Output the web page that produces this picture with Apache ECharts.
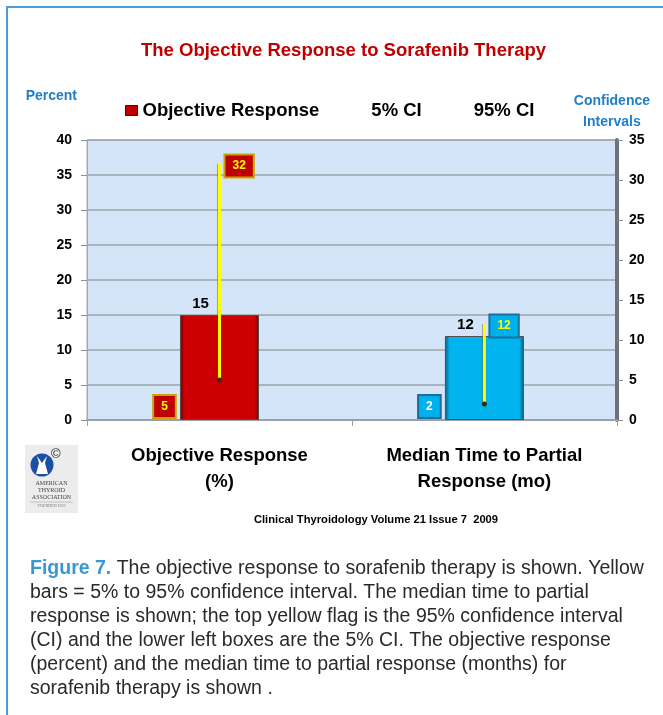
<!DOCTYPE html>
<html>
<head>
<meta charset="utf-8">
<script src="https://cdn.jsdelivr.net/npm/echarts@6/dist/echarts.min.js"></script>
<style>
html,body{margin:0;padding:0;background:#fff;}
#chart{width:663px;height:715px;}
</style>
</head>
<body>
<div id="chart"></div>
<script>
// ---- data ----
const categories = ['Objective Response\n(%)', 'Median Time to Partial\nResponse (mo)'];
const objectiveResponse = [15, 12];
const ci5 = [5, 2];
const ci95 = [32, 12];
const leftAxisMin = 0, leftAxisMax = 40, leftAxisStep = 5;
const rightAxisMin = 0, rightAxisMax = 35, rightAxisStep = 5;

// ---- styles ----
const FONT = "'Liberation Sans',Arial,sans-serif";
const barFill = ['#cc0000', '#00b4f0'];
const barEdge = ['#7a0000', '#0b5a7e'];
const boxFill = ['#c00000', '#00b0ec'];
const boxEdge = ['#c9a400', '#1d6f95'];
const lowText = ['#ffff00', '#ffffff'];

const chart = echarts.init(document.getElementById('chart'), null, {renderer: 'canvas'});

const option = {
  backgroundColor: '#ffffff',
  animation: false,
  title: {
    text: 'The Objective Response to Sorafenib Therapy',
    left: 136, top: 36,
    textStyle: {color: '#c00000', fontSize: 18.5, fontWeight: 'bold', fontFamily: FONT}
  },
  legend: {
    left: 120, top: 96,
    itemWidth: 12, itemHeight: 10, itemGap: 35,
    textStyle: {color: '#000', fontSize: 18.5, fontWeight: 'bold', fontFamily: FONT},
    data: [
      {name: 'Objective Response', icon: 'rect', itemStyle: {color: '#c00000', borderColor: '#5a0000', borderWidth: 1}},
      {name: '5% CI', icon: 'rect', itemStyle: {opacity: 0}},
      {name: '95% CI', icon: 'rect', itemStyle: {opacity: 0}}
    ]
  },
  grid: {
    left: 87, right: 43, top: 140, bottom: 295,
    show: true, backgroundColor: '#d4e5f9', borderColor: '#a3a9b0', borderWidth: 1
  },
  xAxis: {
    type: 'category',
    data: categories,
    axisLine: {lineStyle: {color: '#9aa0a6', width: 2}},
    axisTick: {show: true, length: 6, lineStyle: {color: '#9aa0a6'}},
    axisLabel: {
      color: '#000', fontSize: 18.5, fontWeight: 'bold', fontFamily: FONT,
      lineHeight: 26, margin: 23, interval: 0
    }
  },
  yAxis: [
    {
      type: 'value', min: leftAxisMin, max: leftAxisMax, interval: leftAxisStep,
      name: 'Percent',
      nameGap: 37,
      nameTextStyle: {color: '#1f7fc8', fontSize: 14, fontWeight: 'bold', fontFamily: FONT, align: 'right', padding: [0, 10, 0, 0]},
      axisLine: {show: true, lineStyle: {color: '#a3a9b0', width: 1}},
      axisTick: {show: true, length: 6, lineStyle: {color: '#8a9096'}},
      axisLabel: {color: '#000', fontSize: 14, fontWeight: 'bold', fontFamily: FONT, margin: 15},
      splitLine: {show: true, lineStyle: {color: '#9ea3a9', width: 1.5}}
    },
    {
      type: 'value', min: rightAxisMin, max: rightAxisMax, interval: rightAxisStep,
      name: 'Confidence\nIntervals',
      nameGap: 5,
      nameTextStyle: {color: '#1f7fc8', fontSize: 14, fontWeight: 'bold', fontFamily: FONT, align: 'center', lineHeight: 21, padding: [0, 10, 0, 0]},
      axisLine: {show: true, lineStyle: {color: '#6c7278', width: 4}},
      axisTick: {show: true, length: 6, lineStyle: {color: '#8a9096'}},
      axisLabel: {color: '#000', fontSize: 14, fontWeight: 'bold', fontFamily: FONT, margin: 12},
      splitLine: {show: false}
    }
  ],
  series: [
    {
      name: 'Objective Response',
      type: 'bar',
      yAxisIndex: 0,
      barWidth: 79,
      data: objectiveResponse,
      itemStyle: {
        color: p => new echarts.graphic.LinearGradient(0, 0, 1, 0, [
          {offset: 0, color: barEdge[p.dataIndex]},
          {offset: 0.06, color: barFill[p.dataIndex]},
          {offset: 0.94, color: barFill[p.dataIndex]},
          {offset: 1, color: barEdge[p.dataIndex]}
        ]),
        borderColor: '#5a4a4a',
        borderWidth: 1
      },
      label: {
        show: true, position: 'top', distance: 3, offset: [-19, -1],
        color: '#000', fontSize: 15, fontWeight: 'bold', fontFamily: FONT
      }
    },
    {
      name: '95% CI',
      type: 'custom',
      yAxisIndex: 1,
      data: categories.map((c, i) => [i, ci5[i], ci95[i]]),
      encode: {x: 0, y: [1, 2]},
      z: 5,
      renderItem: function (params, api) {
        const i = api.value(0);
        const top = api.coord([i, api.value(2)]);
        const bot = api.coord([i, api.value(1)]);
        return {
          type: 'group',
          children: [
            {type: 'line', shape: {x1: top[0] - 2, y1: top[1], x2: bot[0] - 2, y2: bot[1]},
             style: {stroke: 'rgba(70,70,70,0.45)', lineWidth: 1}},
            {type: 'line', shape: {x1: top[0], y1: top[1], x2: bot[0], y2: bot[1]},
             style: {stroke: '#ffff00', lineWidth: 3}},
            {type: 'circle', shape: {cx: bot[0], cy: bot[1], r: 2.5}, style: {fill: '#3a2c00'}},
            {type: 'text', x: top[0] + 6, y: top[1] + 2,
             style: {
               text: String(api.value(2)), fill: '#ffff00',
               font: "bold 12px " + FONT,
               align: 'left', verticalAlign: 'middle',
               backgroundColor: boxFill[i], borderColor: boxEdge[i], borderWidth: 2,
               padding: [5, 7, 4, 7]
             }}
          ]
        };
      }
    },
    {
      name: '5% CI',
      type: 'custom',
      yAxisIndex: 1,
      data: categories.map((c, i) => [i, ci5[i]]),
      encode: {x: 0, y: 1},
      z: 5,
      renderItem: function (params, api) {
        const i = api.value(0);
        const base = api.coord([i, rightAxisMin]);
        return {
          type: 'text', x: base[0] - 55, y: base[1] - 3,
          style: {
            text: String(api.value(1)), fill: lowText[i],
            font: "bold 12px " + FONT,
            align: 'center', verticalAlign: 'bottom',
            backgroundColor: boxFill[i], borderColor: boxEdge[i], borderWidth: 2,
            padding: [5, 7, 4, 7]
          }
        };
      }
    }
  ],
  graphic: [
    // page frame
    {type: 'line', shape: {x1: 6, y1: 7, x2: 663, y2: 7}, style: {stroke: '#4a9fdb', lineWidth: 2}},
    {type: 'line', shape: {x1: 7, y1: 6, x2: 7, y2: 715}, style: {stroke: '#4a9fdb', lineWidth: 2}},
    // logo
    {type: 'rect', shape: {x: 25, y: 445, width: 53, height: 68}, style: {fill: '#ececec'}},
    {type: 'circle', shape: {cx: 42, cy: 465, r: 11.5}, style: {fill: '#1d4ea6'}},
    {type: 'polygon', shape: {points: [[37, 456], [39, 463], [36, 474], [48, 474], [45, 463], [47, 456], [42, 463]]},
     style: {fill: '#ffffff'}},
    {type: 'text', x: 51, y: 448, style: {text: '©', fill: '#222', font: '13px sans-serif'}},
    {type: 'text', x: 51.5, y: 480, style: {text: 'AMERICAN\nTHYROID\nASSOCIATION', fill: '#444', font: '6px serif', align: 'center', lineHeight: 7}},
    {type: 'line', shape: {x1: 30, y1: 502, x2: 73, y2: 502}, style: {stroke: '#999', lineWidth: 0.5}},
    {type: 'text', x: 51.5, y: 504, style: {text: 'FOUNDED 1923', fill: '#777', font: '4px serif', align: 'center'}},
    // footer
    {type: 'text', x: 376, y: 520, style: {text: 'Clinical Thyroidology Volume 21 Issue 7  2009', fill: '#000',
      font: "bold 11.2px " + FONT, align: 'center', verticalAlign: 'middle'}},
    // caption
    {type: 'text', x: 30, y: 557, style: {
      text: '{b|Figure 7.} The objective response to sorafenib therapy is shown. Yellow\n' +
            'bars = 5% to 95% confidence interval. The median time to partial\n' +
            'response is shown; the top yellow flag is the 95% confidence interval\n' +
            '(CI) and the lower left boxes are the 5% CI. The objective response\n' +
            '(percent) and the median time to partial response (months) for\n' +
            'sorafenib therapy is shown .',
      fill: '#2a2a2a', font: "19.5px " + FONT, lineHeight: 24,
      rich: {b: {fill: '#3a97d4', fontWeight: 'bold', fontSize: 19.5, fontFamily: FONT, lineHeight: 24}}
    }}
  ]
};
chart.setOption(option);
</script>
</body>
</html>
